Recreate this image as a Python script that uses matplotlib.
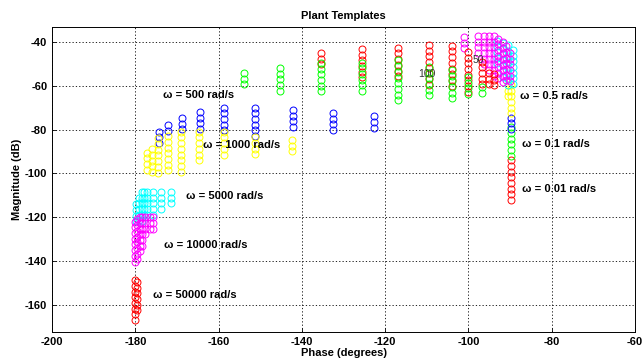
import matplotlib
matplotlib.use("Agg")
import matplotlib.pyplot as plt

plt.rcParams["font.family"] = ["Liberation Sans", "DejaVu Sans"]
plt.rcParams["axes.unicode_minus"] = False

# gain grid of the uncertain plant (dB below the column top)
K_DB = [0.0, 2.6, 5.2, 7.8, 10.4, 13.0, 15.6, 18.2]

# each template: column phases (deg), column top magnitude (dB), points per column
# low frequency templates (stacked near -90 deg)
w001_phase = [-89.8]
w001_top = [-94.0]
w001_n = [8]

w01_phase = [-89.8]
w01_top = [-79.0]
w01_n = [6]

w02_phase = [-89.8]
w02_top = [-74.5]
w02_n = [3]

w05_phase = [-90.4, -89.7]
w05_top = [-59.6, -59.6]
w05_n = [3, 6]

w1_phase = [-93.1, -91.7, -90.5, -89.3]
w1_top = [-39.4, -40.3, -41.4, -43.7]
w1_n = [5, 7, 8, 7]

w5_phase = [-101.0, -97.7, -96.2, -95.0, -93.9, -92.8, -91.8, -90.9, -90.0]
w5_top = [-37.7, -37.3, -37.3, -37.3, -37.3, -38.5, -40.0, -42.0, -45.0]
w5_n = [3, 4, 6, 7, 8, 8, 8, 7, 6]

# mid frequency templates
w50_phase = [-135.4, -125.6, -116.9, -109.5, -103.9, -100.0, -96.8, -95.0, -93.8]
w50_top = [-45.0, -43.2, -42.7, -41.4, -41.8, -44.6, -49.0, -54.2, -54.6]
w50_n = [3, 6, 6, 8, 8, 8, 5, 3, 3]

w100_phase = [-153.9, -145.2, -135.4, -125.6, -116.9, -109.5, -103.9, -100.0, -96.8]
w100_top = [-54.2, -51.9, -49.6, -49.5, -48.5, -51.4, -52.8, -56.0, -60.5]
w100_n = [3, 5, 6, 6, 8, 6, 6, 4, 2]

w500_phase = [-174.3, -172.1, -168.8, -164.5, -158.7, -151.2, -142.1, -132.5, -122.7]
w500_top = [-81.0, -78.0, -74.7, -72.0, -70.0, -70.0, -71.0, -72.4, -74.0]
w500_n = [3, 2, 3, 4, 5, 6, 4, 4, 3]

w1000_phase = [-177.2, -176.0, -174.5, -172.1, -169.0, -164.7, -158.7, -151.2, -142.4]
w1000_top = [-90.5, -89.0, -84.0, -83.0, -81.0, -81.0, -81.0, -83.5, -84.7]
w1000_n = [4, 5, 7, 7, 8, 6, 5, 4, 3]

# high frequency templates (near -180 deg)
w5000_phase = [-179.8, -179.2, -178.4, -177.9, -177.2, -175.7, -173.8, -171.4]
w5000_top = [-114.0, -111.0, -108.5, -108.5, -108.5, -108.5, -108.5, -108.5]
w5000_n = [4, 5, 6, 5, 5, 5, 4, 3]

w10000_phase = [-180.1, -179.6, -179.0, -178.4, -177.7, -176.5, -175.7]
w10000_top = [-122.0, -121.0, -120.0, -120.0, -120.0, -120.0, -120.0]
w10000_n = [8, 8, 7, 6, 4, 3, 3]

w50000_phase = [-180.2, -179.6]
w50000_top = [-148.7, -149.5]
w50000_n = [8, 6]

RED, GREEN, BLUE = "#ff0000", "#00ff00", "#0000ff"
YELLOW, CYAN, MAGENTA = "#ffff00", "#00ffff", "#ff00ff"

templates = [
    (w001_phase, w001_top, w001_n, RED),
    (w01_phase, w01_top, w01_n, GREEN),
    (w02_phase, w02_top, w02_n, BLUE),
    (w05_phase, w05_top, w05_n, YELLOW),
    (w1_phase, w1_top, w1_n, CYAN),
    (w5_phase, w5_top, w5_n, MAGENTA),
    (w50_phase, w50_top, w50_n, RED),
    (w100_phase, w100_top, w100_n, GREEN),
    (w500_phase, w500_top, w500_n, BLUE),
    (w1000_phase, w1000_top, w1000_n, YELLOW),
    (w5000_phase, w5000_top, w5000_n, CYAN),
    (w10000_phase, w10000_top, w10000_n, MAGENTA),
    (w50000_phase, w50000_top, w50000_n, RED),
]

# annotation labels: text, phase, magnitude
labels = [
    ("ω = 500 rad/s", -173.4, -64.2),
    ("ω = 1000 rad/s", -163.7, -87.0),
    ("ω = 5000 rad/s", -167.8, -110.3),
    ("ω = 10000 rad/s", -173.1, -132.7),
    ("ω = 50000 rad/s", -175.7, -155.5),
    ("ω = 0.5 rad/s", -87.6, -64.7),
    ("ω = 0.1 rad/s", -87.1, -86.6),
    ("ω = 0.01 rad/s", -87.1, -107.1),
]

fig = plt.figure(figsize=(6.44, 3.64), dpi=100)
ax = fig.add_axes([0.081, 0.088, 0.905, 0.838])

for phases, tops, counts, col in templates:
    xs, ys = [], []
    for ph, top, n in zip(phases, tops, counts):
        for k in K_DB[:n]:
            xs.append(ph)
            ys.append(top - k)
    ax.plot(xs, ys, "o", mfc="none", mec=col, ms=5, mew=0.7, ls="none")

for txt, x, y in labels:
    ax.text(x, y, txt, fontsize=8, fontweight="bold", va="center", ha="left", zorder=5)

ax.text(-110.0, -54.5, "100", fontsize=7.5, color="#333333", ha="center", va="center", zorder=5)
ax.text(-97.7, -48.2, "50", fontsize=7.5, color="#333333", ha="center", va="center", zorder=5)

ax.set_xlim(-200, -60)
ax.set_ylim(-172.3, -33.2)
ax.set_xticks(range(-200, -59, 20))
ax.set_yticks(range(-160, -39, 20))
ax.grid(True, color="black", linestyle=(0, (1.5, 2.5)), linewidth=0.6)
ax.tick_params(direction="in", length=3, labelsize=8, width=0.6)
for lab in ax.get_xticklabels() + ax.get_yticklabels():
    lab.set_fontweight("bold")
for s in ax.spines.values():
    s.set_linewidth(0.7)

ax.set_title("Plant Templates", fontsize=8, fontweight="bold", pad=6)
ax.set_xlabel("Phase (degrees)", fontsize=8, fontweight="bold", labelpad=1)
ax.set_ylabel("Magnitude (dB)", fontsize=8, fontweight="bold", labelpad=2)

fig.savefig("out.png", dpi=100)
